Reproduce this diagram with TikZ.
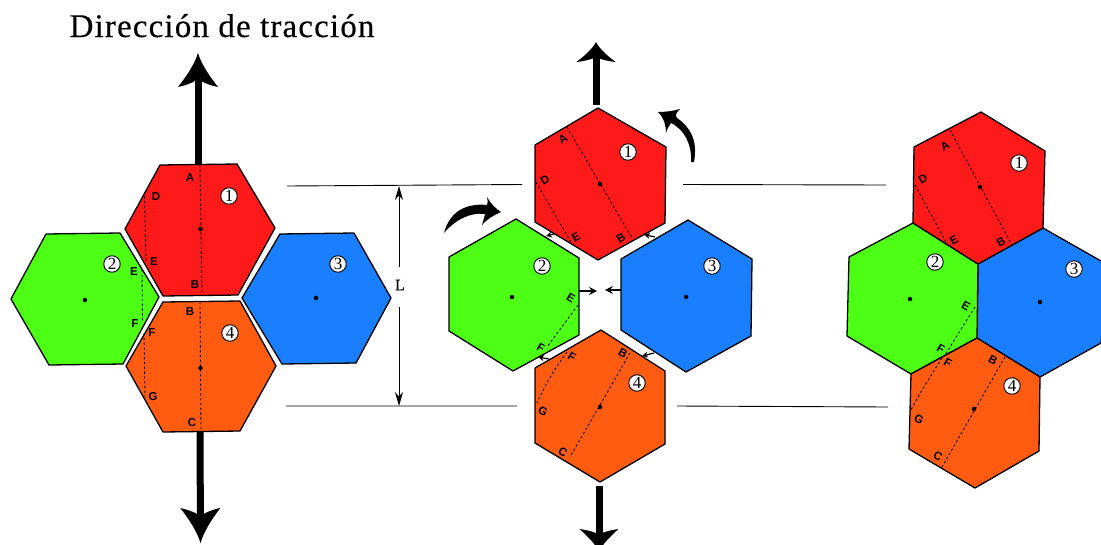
\documentclass[tikz,border=0pt]{standalone}
\usepackage{fontspec}
\setmainfont{Liberation Serif}
\newfontfamily\lblfont{Liberation Sans}[Scale=1]
\newfontfamily\titlefont{Liberation Serif}[LetterSpace=3.5,FakeBold=0.35]
\newfontfamily\Lfont{Liberation Serif}[FakeBold=0.5]
\usetikzlibrary{arrows.meta}
\definecolor{hred}{HTML}{FF1A1A}
\definecolor{hgreen}{HTML}{4CFF14}
\definecolor{hblue}{HTML}{1A7FFF}
\definecolor{horange}{HTML}{FF5C12}
\pgfdeclarearrow{
  name=Barb,
  setup code={
    \pgfarrowssettipend{0pt}
    \pgfarrowssetlineend{-0.72\pgfarrowlength}
    \pgfarrowssetbackend{-\pgfarrowlength}
    \pgfarrowssavethe\pgfarrowlength
    \pgfarrowssavethe\pgfarrowwidth
  },
  drawing code={
    \pgfpathmoveto{\pgfqpoint{0pt}{0pt}}
    \pgfpathcurveto{\pgfqpoint{-0.35\pgfarrowlength}{0.09\pgfarrowwidth}}{\pgfqpoint{-0.7\pgfarrowlength}{0.3\pgfarrowwidth}}{\pgfqpoint{-\pgfarrowlength}{0.5\pgfarrowwidth}}
    \pgfpathcurveto{\pgfqpoint{-0.94\pgfarrowlength}{0.25\pgfarrowwidth}}{\pgfqpoint{-0.84\pgfarrowlength}{0.08\pgfarrowwidth}}{\pgfqpoint{-0.76\pgfarrowlength}{0pt}}
    \pgfpathcurveto{\pgfqpoint{-0.84\pgfarrowlength}{-0.08\pgfarrowwidth}}{\pgfqpoint{-0.94\pgfarrowlength}{-0.25\pgfarrowwidth}}{\pgfqpoint{-\pgfarrowlength}{-0.5\pgfarrowwidth}}
    \pgfpathcurveto{\pgfqpoint{-0.7\pgfarrowlength}{-0.3\pgfarrowwidth}}{\pgfqpoint{-0.35\pgfarrowlength}{-0.09\pgfarrowwidth}}{\pgfqpoint{0pt}{0pt}}
    \pgfpathclose
    \pgfusepathqfill
  },
  parameters={\the\pgfarrowlength,\the\pgfarrowwidth},
  defaults={length=30pt,width=40pt}
}
\tikzset{
  hexa/.style={draw=black,line width=1.3pt,line join=round},
  dots/.style={line width=0.85pt,dash pattern=on 2.4pt off 2.4pt},
  ctr/.style={circle,fill=black,inner sep=0pt,minimum size=4.5pt},
  lbl/.style={inner sep=0pt,font=\lblfont\bfseries\fontsize{11.5}{11.5}\selectfont},
  num/.style={circle,draw=black,fill=white,line width=0.9pt,inner sep=0pt,minimum size=16.5pt,font=\fontsize{17}{17}\selectfont},
  rule/.style={line width=0.9pt},
  shaft/.style={line width=7pt},
  small/.style={line width=1.3pt,-{Stealth[length=8pt,width=8pt,inset=3pt]}},
  tiny/.style={line width=1.2pt,-{Stealth[length=6pt,width=6pt,inset=2pt]}},
  dim/.style={line width=0.9pt}
}
\begin{document}
\begin{tikzpicture}[x=1pt,y=-1pt]
\useasboundingbox (0,0) rectangle (1101,544);
\clip (0,0) rectangle (1101,544);

% title
\node[anchor=base,font=\titlefont\fontsize{33}{33}\selectfont,inner sep=0pt] (title) at (222,37) {Dirección de tracción};

% ---- left panel
\coordinate (lta) at (198,168); \coordinate (ltb) at (198,53);
\coordinate (lba) at (200,428); \coordinate (lbb) at (200.5,543);
\draw[shaft,-{Barb[length=34pt,width=40pt]}] (lta) -- (ltb);
\draw[shaft,-{Barb[length=35pt,width=40pt]}] (lba) -- (lbb);
\draw[hexa,fill=hred] (160,165)--(237,164)--(275,228)--(238,295)--(163,296)--(125,229)--cycle;
\draw[hexa,fill=hgreen] (46,234)--(120,233)--(159,297)--(123,364)--(49,365)--(11,299)--cycle;
\draw[hexa,fill=hblue] (280,234)--(354,233)--(391,298)--(356,363)--(282,364)--(242,298)--cycle;
\draw[hexa,fill=horange] (163,302)--(240,301)--(276,366)--(240,431)--(163,432)--(126,366)--cycle;
\draw[dots] (200,165)--(202,295) (144.5,196)--(146,262) (142,270)--(142.5,322) (200,302)--(201,431) (144,333)--(145,397);
\node[ctr] (lc1) at (200.5,229) {}; \node[ctr] (lc2) at (85,300) {};
\node[ctr] (lc3) at (316,298) {}; \node[ctr] (lc4) at (200.5,368) {};
\node[num] (ln1) at (229,196) {1}; \node[num] (ln2) at (112,264) {2};
\node[num] (ln3) at (338,264) {3}; \node[num] (ln4) at (230,333) {4};
\node[lbl] (la) at (190,178) {A}; \node[lbl] (ld) at (156,197) {D};
\node[lbl] (le1) at (154,262) {E}; \node[lbl] (le2) at (134,272) {E};
\node[lbl] (lb1) at (195,285) {B}; \node[lbl] (lf2) at (135,324) {F};
\node[lbl] (lf4) at (152,333) {F}; \node[lbl] (lb4) at (190,312) {B};
\node[lbl] (lg) at (153,397) {G}; \node[lbl] (lc) at (192,423) {C};

% ---- dimension lines
\coordinate (r1a) at (287,186); \coordinate (r1b) at (522,184.5);
\coordinate (r2a) at (286,406); \coordinate (r2b) at (517,406);
\coordinate (r3a) at (683,184.5); \coordinate (r3b) at (886,185);
\coordinate (r4a) at (677,406); \coordinate (r4b) at (888,407);
\draw[rule] (r1a)--(r1b) (r2a)--(r2b) (r3a)--(r3b) (r4a)--(r4b);
\node[inner sep=0pt,font=\Lfont\fontsize{16}{16}\selectfont] (L) at (400,285) {L};
\coordinate (d1) at (399,267); \coordinate (d1t) at (399,186);
\coordinate (d2) at (399,307); \coordinate (d2t) at (399,406);
\draw[dim,-{Stealth[length=14pt,width=8pt]}] (d1) -- (d1t);
\draw[dim,-{Stealth[length=14pt,width=8pt]}] (d2) -- (d2t);

% ---- middle panel
\coordinate (mta) at (596,105); \coordinate (mtb) at (596,42);
\coordinate (mba) at (599,486); \coordinate (mbb) at (599,552);
\draw[shaft,-{Barb[length=20pt,width=39pt]}] (mta) -- (mtb);
\draw[shaft,-{Barb[length=23pt,width=39pt]}] (mba) -- (mbb);
\coordinate (s1a) at (556,233.5); \coordinate (s1b) at (546,236);
\coordinate (s2a) at (655,237); \coordinate (s2b) at (644,234.5);
\coordinate (s3a) at (549,359); \coordinate (s3b) at (538,357);
\coordinate (s4a) at (654,353); \coordinate (s4b) at (642,356);
\draw[tiny] (s1a)--(s1b); \draw[tiny] (s2a)--(s2b); \draw[tiny] (s3a)--(s3b); \draw[tiny] (s4a)--(s4b);
\coordinate (s5a) at (579,291); \coordinate (s5b) at (597,291);
\coordinate (s6a) at (621,290); \coordinate (s6b) at (605,290);
\draw[small] (s5a)--(s5b); \draw[small] (s6a)--(s6b);
\draw[hexa,fill=hred] (598,108)--(666,147)--(665,223)--(598,260)--(535,222)--(535,145)--cycle;
\draw[hexa,fill=hgreen] (516,219)--(579,258)--(579,335)--(513,371)--(449,331)--(449,257)--cycle;
\draw[hexa,fill=hblue] (688,220)--(752,259)--(751,336)--(686,372)--(621,330)--(621,259)--cycle;
\draw[hexa,fill=horange] (601,330)--(665,371)--(665,444)--(600,482)--(535,443)--(535,368)--cycle;
\draw[dots] (567,127)--(632,238) (536,182)--(572,244) (578,305)--(547,347) (630,353)--(570,457);
\draw[dots] (567,352) .. controls (552,372) and (544,388) .. (537,403);
\node[ctr] (mc1) at (600,184) {}; \node[ctr] (mc2) at (512,297) {};
\node[ctr] (mc3) at (686,297) {}; \node[ctr] (mc4) at (600,407) {};
\node[num] (mn1) at (628,152) {1}; \node[num] (mn2) at (542,266) {2};
\node[num] (mn3) at (712,266) {3}; \node[num] (mn4) at (637,383) {4};
\node[lbl,rotate=30] (ma) at (563,139) {A}; \node[lbl,rotate=30] (md) at (545,180) {D};
\node[lbl,rotate=30] (me1) at (576,237) {E}; \node[lbl,rotate=30] (mb1) at (621,238) {B};
\node[lbl,rotate=-30] (me2) at (571,298) {E}; \node[lbl,rotate=-30] (mf2) at (541,348) {F};
\node[lbl,rotate=-30] (mf4) at (572,357) {F}; \node[lbl,rotate=-30] (mb4) at (623,353) {B};
\node[lbl,rotate=-30] (mg) at (543,411) {G}; \node[lbl,rotate=-30] (mcc) at (563,452) {C};
% curved arrows
\fill (691,162) .. controls (692,145) and (685,130) .. (671,123) .. controls (669,126) and (667,129) .. (666,133) .. controls (666,125) and (664,118) .. (658,112) .. controls (665,112) and (673,111) .. (680,109) .. controls (676,113) and (675,115) .. (677,118) .. controls (690,127) and (698,140) .. (694,162) -- cycle;
\fill (444,233) .. controls (450,210) and (468,203) .. (487,205) .. controls (488,203) and (488,200) .. (487,197) .. controls (491,204) and (496,209) .. (501,212) .. controls (494,215) and (487,219) .. (482,225) .. controls (483,222) and (484,218) .. (485,214) .. controls (470,212) and (455,220) .. (444,233) -- cycle;

% ---- right panel
\draw[hexa,fill=hblue] (978,264)--(1043,228)--(1108,265)--(1101,343)--(1040,377)--(977,338)--cycle;
\draw[hexa,fill=hgreen] (913,223)--(978,264)--(977,338)--(911,374)--(847,336)--(849,257)--cycle;
\draw[hexa,fill=hred] (981,112)--(1045,151)--(1043,228)--(978,264)--(913,223)--(914,147)--cycle;
\draw[hexa,fill=horange] (977,338)--(1040,377)--(1039,451)--(975,488)--(909,449)--(911,374)--cycle;
\draw[dots] (950,130)--(1012,245) (915,185)--(947,244) (975,307)--(945,355) (1005,357)--(942,467);
\draw[dots] (942,358) .. controls (928,380) and (918,396) .. (910,412);
\node[ctr] (rc1) at (980,187) {}; \node[ctr] (rc2) at (910,299) {};
\node[ctr] (rc3) at (1040,302) {}; \node[ctr] (rc4) at (974,409) {};
\node[num] (rn1) at (1019,163) {1}; \node[num] (rn2) at (935,262) {2};
\node[num] (rn3) at (1074,269) {3}; \node[num] (rn4) at (1012,386) {4};
\node[lbl,rotate=30] (ra) at (945,146) {A}; \node[lbl,rotate=30] (rd) at (923,179) {D};
\node[lbl,rotate=30] (re1) at (954,240) {E}; \node[lbl,rotate=30] (rb1) at (1001,242) {B};
\node[lbl,rotate=-30] (re2) at (966,306) {E}; \node[lbl,rotate=-30] (rf2) at (941,349) {F};
\node[lbl,rotate=-30] (rf4) at (948,363) {F}; \node[lbl,rotate=-30] (rb4) at (993,360) {B};
\node[lbl,rotate=-30] (rg) at (919,419) {G}; \node[lbl,rotate=-30] (rcc) at (938,456) {C};
\end{tikzpicture}
\end{document}
